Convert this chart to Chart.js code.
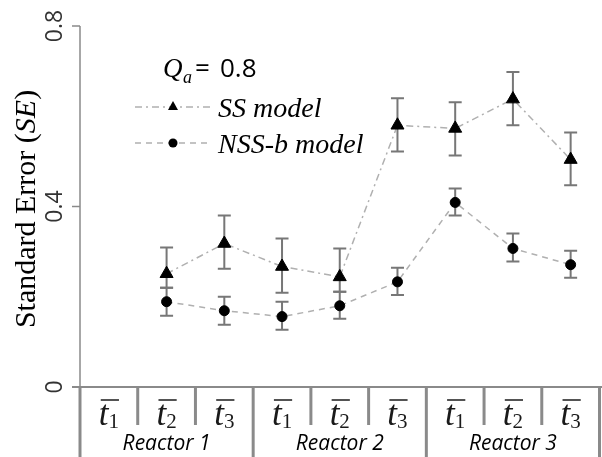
<!DOCTYPE html>
<html>
<head>
<meta charset="utf-8">
<script src="https://cdn.jsdelivr.net/npm/chart.js@4.4.0/dist/chart.umd.min.js"></script>
<style>
  html, body { margin: 0; padding: 0; background: #fff; }
  #wrap { width: 602px; height: 457px; overflow: hidden; position: relative; }
  canvas { display: block; }
</style>
</head>
<body>
<div id="wrap"><canvas id="chart" width="608" height="457"></canvas></div>
<script>
// categories: mean period index (subscript) per reactor
const periods = ['1', '2', '3', '1', '2', '3', '1', '2', '3'];
const reactors = ['Reactor 1', 'Reactor 2', 'Reactor 3'];
const yTicks = [0, 0.4, 0.8];
const yTickLabels = ['0', '0.4', '0.8'];

// SS model (triangles)
const ssMean = [null, 0.251, 0.318, 0.267, 0.244, 0.580, 0.573, 0.638, 0.504];
const ssLow  = [null, 0.220, 0.262, 0.209, 0.211, 0.522, 0.513, 0.580, 0.447];
const ssHigh = [null, 0.309, 0.380, 0.329, 0.307, 0.640, 0.631, 0.698, 0.564];

// NSS-b model (circles)
const nssMean = [null, 0.189, 0.169, 0.156, 0.180, 0.233, 0.409, 0.307, 0.271];
const nssLow  = [null, 0.158, 0.138, 0.127, 0.151, 0.204, 0.380, 0.278, 0.242];
const nssHigh = [null, 0.220, 0.200, 0.189, 0.211, 0.264, 0.440, 0.340, 0.302];

const axisGray = '#8a8a8a';
const lineGray = '#b0b0b0';
const ssDash = [7, 4, 2, 4];
const nssDash = [6, 5];

// Error bars under the markers
const errorBars = {
    id: 'errorBars',
    beforeDatasetsDraw(chart) {
        const ctx = chart.ctx, xs = chart.scales.x, ys = chart.scales.y;
        ctx.save();
        ctx.strokeStyle = '#777';
        ctx.lineWidth = 2;
        [[ssLow, ssHigh], [nssLow, nssHigh]].forEach(([lo, hi]) => {
            lo.forEach((v, i) => {
                if (v === null) return;
                const px = xs.getPixelForValue(i);
                const y0 = ys.getPixelForValue(v), y1 = ys.getPixelForValue(hi[i]);
                ctx.beginPath();
                ctx.moveTo(px, y0); ctx.lineTo(px, y1);
                ctx.moveTo(px - 6.5, y0); ctx.lineTo(px + 6.5, y0);
                ctx.moveTo(px - 6.5, y1); ctx.lineTo(px + 6.5, y1);
                ctx.stroke();
            });
        });
        ctx.restore();
    }
};

// Axes, category table, titles and legend
const decorations = {
    id: 'decorations',
    afterDraw(chart) {
        const ctx = chart.ctx, xs = chart.scales.x, ys = chart.scales.y;
        const area = chart.chartArea;
        const step = xs.getPixelForValue(1) - xs.getPixelForValue(0);
        ctx.save();

        // y axis line + ticks
        ctx.strokeStyle = axisGray;
        ctx.lineWidth = 1.5;
        ctx.beginPath();
        ctx.moveTo(area.left, ys.getPixelForValue(0.8));
        ctx.lineTo(area.left, area.bottom);
        yTicks.forEach(t => {
            const py = ys.getPixelForValue(t);
            ctx.moveTo(area.left - 8, py);
            ctx.lineTo(area.left, py);
        });
        ctx.stroke();

        // x axis line
        ctx.lineWidth = 2;
        ctx.beginPath();
        ctx.moveTo(area.left - 8, area.bottom);
        ctx.lineTo(chart.width, area.bottom);
        ctx.stroke();

        // separators of the category table
        ctx.lineWidth = 3;
        for (let k = 0; k <= periods.length; k++) {
            const bx = xs.getPixelForValue(0) - step / 2 + k * step;
            ctx.beginPath();
            ctx.moveTo(bx, area.bottom);
            ctx.lineTo(bx, k % 3 === 0 ? chart.height : area.bottom + 38);
            ctx.stroke();
        }

        // y tick labels (rotated)
        ctx.fillStyle = '#333';
        ctx.font = '23px "Open Sans"';
        ctx.textAlign = 'center';
        ctx.textBaseline = 'alphabetic';
        yTicks.forEach((t, i) => {
            ctx.save();
            ctx.translate(62, ys.getPixelForValue(t));
            ctx.rotate(-Math.PI / 2);
            ctx.fillText(yTickLabels[i], 0, 0);
            ctx.restore();
        });

        // y axis title
        ctx.save();
        ctx.translate(35, 209);
        ctx.rotate(-Math.PI / 2);
        ctx.fillStyle = '#000';
        const partA = 'Standard Error (', partB = 'SE', partC = ')';
        const fReg = '30px "Liberation Serif"', fIt = 'italic 30px "Liberation Serif"';
        ctx.font = fReg; const wA = ctx.measureText(partA).width, wC = ctx.measureText(partC).width;
        ctx.font = fIt; const wB = ctx.measureText(partB).width;
        let sx = -(wA + wB + wC) / 2;
        ctx.textAlign = 'left';
        ctx.font = fReg; ctx.fillText(partA, sx, 0); sx += wA;
        ctx.font = fIt; ctx.fillText(partB, sx, 0); sx += wB;
        ctx.font = fReg; ctx.fillText(partC, sx, 0);
        ctx.restore();

        // category labels: t-bar with subscript
        ctx.fillStyle = '#1a1a1a';
        ctx.strokeStyle = '#1a1a1a';
        ctx.textAlign = 'left';
        const tFont = 'italic 35px "Liberation Serif"', subFont = '21px "Liberation Serif"';
        periods.forEach((p, i) => {
            const cx = xs.getPixelForValue(i);
            ctx.font = tFont;
            const tw = ctx.measureText('t').width;
            ctx.font = subFont;
            const sw = ctx.measureText(p).width;
            const x0 = cx - (tw + sw) / 2;
            ctx.font = tFont;
            ctx.fillText('t', x0, 425);
            ctx.font = subFont;
            ctx.fillText(p, x0 + tw, 428);
            ctx.lineWidth = 1.5;
            ctx.beginPath();
            ctx.moveTo(x0 + 2, 400);
            ctx.lineTo(x0 + tw + sw, 400);
            ctx.stroke();
        });

        // reactor labels
        ctx.fillStyle = '#000';
        ctx.font = 'italic 21px "Open Sans"';
        ctx.textAlign = 'center';
        reactors.forEach((r, g) => {
            ctx.fillText(r, xs.getPixelForValue(g * 3 + 1), 450);
        });

        // Q_a = 0.8
        ctx.fillStyle = '#000';
        ctx.textAlign = 'left';
        ctx.font = 'italic 27px "Liberation Serif"';
        ctx.fillText('Q', 163, 77);
        ctx.font = 'italic 18px "Liberation Serif"';
        ctx.fillText('a', 183, 83);
        ctx.font = '26px "Open Sans"';
        ctx.fillText('=', 195, 77);
        ctx.fillText('0.8', 220, 77);

        // legend
        const legend = [
            { y: 107, dash: ssDash, shape: 'triangle', text: 'SS model' },
            { y: 143, dash: nssDash, shape: 'circle', text: 'NSS-b model' }
        ];
        legend.forEach(l => {
            ctx.strokeStyle = lineGray;
            ctx.lineWidth = 1.5;
            ctx.setLineDash(l.dash);
            ctx.beginPath();
            ctx.moveTo(135, l.y); ctx.lineTo(210, l.y);
            ctx.stroke();
            ctx.setLineDash([]);
            ctx.fillStyle = '#000';
            ctx.beginPath();
            if (l.shape === 'triangle') {
                ctx.moveTo(173, l.y - 6);
                ctx.lineTo(178, l.y + 3);
                ctx.lineTo(168, l.y + 3);
                ctx.closePath();
            } else {
                ctx.arc(173, l.y, 4.5, 0, Math.PI * 2);
            }
            ctx.fill();
            ctx.font = 'italic 28px "Liberation Serif"';
            ctx.fillText(l.text, 218, l.y + 10);
        });

        ctx.restore();
    }
};

new Chart(document.getElementById('chart'), {
    type: 'line',
    data: {
        labels: periods.map((p, i) => 't' + p + ' ' + reactors[Math.floor(i / 3)]),
        datasets: [
            {
                label: 'SS model',
                data: ssMean,
                borderColor: lineGray,
                borderWidth: 1.5,
                borderDash: ssDash,
                pointStyle: 'triangle',
                pointRadius: 7.5,
                pointBorderWidth: 1,
                pointBackgroundColor: '#000',
                pointBorderColor: '#000',
                clip: false
            },
            {
                label: 'NSS-b model',
                data: nssMean,
                borderColor: lineGray,
                borderWidth: 1.5,
                borderDash: nssDash,
                pointStyle: 'circle',
                pointRadius: 5,
                pointBorderWidth: 1,
                pointBackgroundColor: '#000',
                pointBorderColor: '#000',
                clip: false
            }
        ]
    },
    options: {
        responsive: false,
        animation: false,
        layout: { padding: { left: 80, top: 26, bottom: 70, right: 0 } },
        plugins: { legend: { display: false }, tooltip: { enabled: false } },
        scales: {
            x: { type: 'category', offset: true, display: false },
            y: { min: 0, max: 0.8, display: false }
        }
    },
    plugins: [errorBars, decorations]
});
</script>
</body>
</html>
